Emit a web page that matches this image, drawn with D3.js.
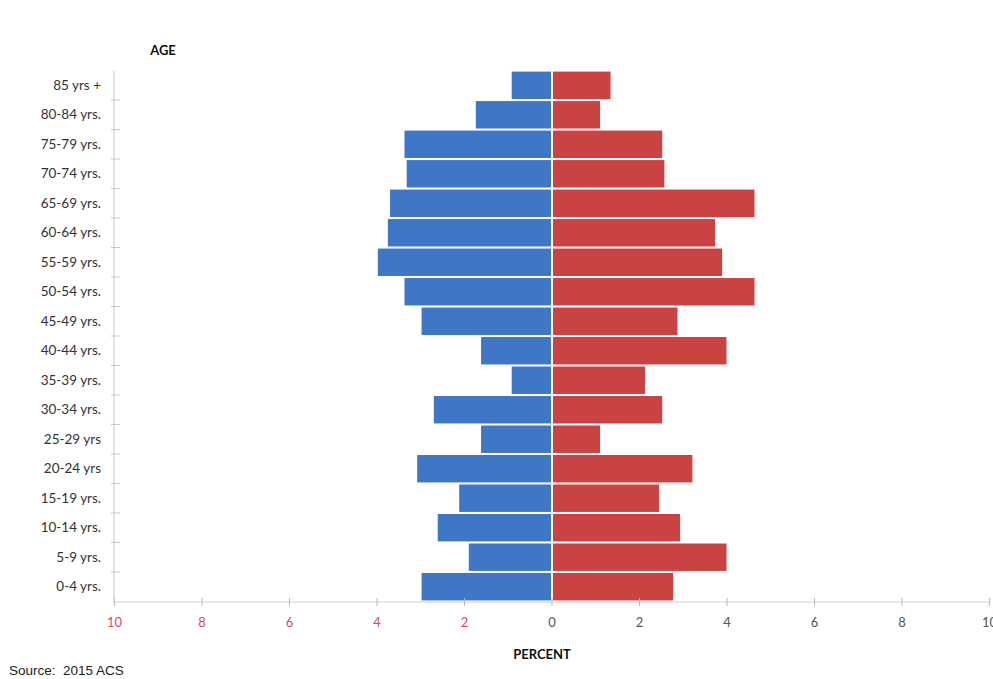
<!DOCTYPE html>
<html>
<head>
<meta charset="utf-8">
<script src="https://cdn.jsdelivr.net/npm/d3@7"></script>
<style>
  html, body { margin: 0; padding: 0; background: #ffffff; }
  svg { display: block; }
</style>
</head>
<body>
<svg id="chart" width="993" height="679"></svg>
<script>
// ---- data ----
const ageGroups = ["85 yrs +", "80-84 yrs.", "75-79 yrs.", "70-74 yrs.", "65-69 yrs.", "60-64 yrs.",
  "55-59 yrs.", "50-54 yrs.", "45-49 yrs.", "40-44 yrs.", "35-39 yrs.", "30-34 yrs.",
  "25-29 yrs", "20-24 yrs", "15-19 yrs.", "10-14 yrs.", "5-9 yrs.", "0-4 yrs."];
const malePct   = [0.91, 1.73, 3.36, 3.31, 3.69, 3.74, 3.97, 3.36, 2.97, 1.61, 0.91, 2.69, 1.61, 3.07, 2.11, 2.60, 1.89, 2.97];
const femalePct = [1.35, 1.11, 2.53, 2.58, 4.64, 3.74, 3.90, 4.64, 2.88, 4.00, 2.14, 2.53, 1.11, 3.22, 2.46, 2.94, 4.00, 2.78];
const xTicks = [-10, -8, -6, -4, -2, 0, 2, 4, 6, 8, 10];
const xTickLabels = ["10", "8", "6", "4", "2", "0", "2", "4", "6", "8", "10"];

// ---- layout ----
const svg = d3.select("#chart");
const x = d3.scaleLinear().domain([-10, 10]).range([114, 989]);
const y = d3.scaleBand().domain(ageGroups).range([71, 601]).paddingInner(0.07).paddingOuter(0.02);
const labelFont = "Lato, 'Open Sans', sans-serif";

// bars: male (left, blue)
svg.append("g").selectAll("rect").data(ageGroups).join("rect")
  .attr("x", (d, i) => x(-malePct[i]))
  .attr("y", d => y(d))
  .attr("width", (d, i) => x(0) - x(-malePct[i]) - 0.5)
  .attr("height", y.bandwidth())
  .attr("fill", "#3f76c6");

// bars: female (right, red)
svg.append("g").selectAll("rect").data(ageGroups).join("rect")
  .attr("x", x(0) + 1.5)
  .attr("y", d => y(d))
  .attr("width", (d, i) => x(femalePct[i]) - x(0) - 1.5)
  .attr("height", y.bandwidth())
  .attr("fill", "#c94343");

// x axis
const xAxis = d3.axisBottom(x).tickValues(xTicks).tickSize(4)
  .tickFormat((d, i) => xTickLabels[i]);
const gx = svg.append("g").attr("transform", "translate(0,602)").call(xAxis);
gx.select(".domain").attr("stroke", "#cfcfcf").attr("d", `M${x(-10)},0H${x(10)}`);
gx.selectAll(".tick line").attr("stroke", "#b8b8b8").attr("y1", -4).attr("y2", 4);
gx.selectAll(".tick text")
  .attr("y", 16)
  .attr("font-family", labelFont)
  .attr("font-size", 13)
  .attr("fill", d => d < 0 ? "#e0456e" : "#555555");

// y axis
const yAxis = d3.axisLeft(y).tickSize(0).tickPadding(13);
const gy = svg.append("g").attr("transform", `translate(${x(-10)},0)`).call(yAxis);
gy.select(".domain").attr("stroke", "#c8c8c8").attr("d", "M0,71V602");
gy.selectAll(".tick text")
  .attr("font-family", labelFont)
  .attr("font-size", 13.5)
  .attr("fill", "#333333");
// small boundary ticks
const bounds = ageGroups.map(d => y(d) - y.step() * y.paddingInner() / 2).slice(1);
gy.append("g").selectAll("line").data(bounds).join("line")
  .attr("x1", -3).attr("x2", 6)
  .attr("y1", d => d).attr("y2", d => d)
  .attr("stroke", "#c8c8c8");

// titles
svg.append("text").attr("x", 163).attr("y", 55).attr("text-anchor", "middle")
  .attr("font-family", labelFont).attr("font-weight", "bold").attr("font-size", 13)
  .attr("fill", "#111").text("AGE");
svg.append("text").attr("x", 542).attr("y", 659).attr("text-anchor", "middle")
  .attr("font-family", labelFont).attr("font-weight", "bold").attr("font-size", 13)
  .attr("fill", "#111").text("PERCENT");
svg.append("text").attr("x", 9).attr("y", 675)
  .attr("font-family", "'Liberation Sans', Arial, sans-serif").attr("font-size", 13.5)
  .attr("fill", "#222").attr("xml:space", "preserve").text("Source:  2015 ACS");
</script>
</body>
</html>
